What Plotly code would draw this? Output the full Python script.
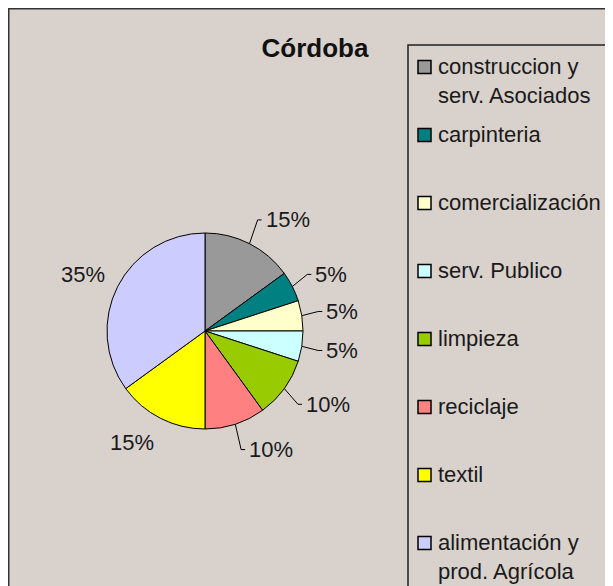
import math
import plotly.graph_objects as go

# ---- data ----
categories = ["construccion y<br>serv. Asociados", "carpinteria", "comercialización",
              "serv. Publico", "limpieza", "reciclaje", "textil",
              "alimentación y<br>prod. Agrícola"]
values = [15, 5, 5, 5, 10, 10, 15, 35]
colors = ["#999999", "#008080", "#FFFFCC", "#CCFFFF", "#99CC00", "#FF8080", "#FFFF00", "#CCCCFF"]
title_text = "Córdoba"

# ---- layout geometry (window pixels; page body adds an 8px margin) ----
W, H = 613, 586
OFF = 8
CX, CY, R = 205, 331, 98
BG = "#d9d1cc"
FONT = "Liberation Sans, Arial, sans-serif"


def px(x):
    return (x - OFF) / W


def py(y):
    return 1 - (y - OFF) / H


fig = go.Figure()
fig.add_trace(go.Pie(
    labels=[c.replace("<br>", " ") for c in categories],
    values=values,
    marker=dict(colors=colors, line=dict(color="black", width=1)),
    sort=False,
    direction="clockwise",
    rotation=0,
    textinfo="none",
    hoverinfo="label+percent",
    showlegend=False,
    domain=dict(x=[px(CX - R), px(CX + R)], y=[py(CY + R), py(CY - R)]),
))

shapes = []
annotations = []

# outer chart border
shapes.append(dict(type="rect", xref="paper", yref="paper",
                   x0=px(8.75), x1=px(W + 40), y0=py(H + 40), y1=py(8.75),
                   fillcolor=BG, line=dict(color="#333333", width=1.5), layer="below"))
# legend box
shapes.append(dict(type="rect", xref="paper", yref="paper",
                   x0=px(408), x1=px(W + 40), y0=py(H + 40), y1=py(45),
                   fillcolor=BG, line=dict(color="#222222", width=1.5), layer="below"))

# percentage labels
total = sum(values)
cum = 0
for v in values:
    mid = (cum + v / 2) / total * 2 * math.pi
    cum += v
    s, c = math.sin(mid), math.cos(mid)
    rl = 1.16 * R
    lx = CX + rl * s
    ly = CY - rl * c - c * 11
    pct = f"{round(v / total * 100)}%"
    if s > 0:
        lx += 7
        ex, ey = CX + R * s, CY - R * c
        path = f"M {px(ex)},{py(ey)} L {px(lx - 6)},{py(ly)} L {px(lx - 2)},{py(ly)}"
        shapes.append(dict(type="path", xref="paper", yref="paper", path=path,
                           line=dict(color="black", width=1)))
        anchor = "left"
    else:
        lx += 3
        anchor = "right"
    annotations.append(dict(x=px(lx), y=py(ly), xref="paper", yref="paper",
                            text=pct, showarrow=False, xanchor=anchor, yanchor="middle",
                            font=dict(family=FONT, size=22, color="#1a1a1a")))

# legend entries
for i, (name, col) in enumerate(zip(categories, colors)):
    yc = 67 + 68 * i
    shapes.append(dict(type="rect", xref="paper", yref="paper",
                       x0=px(418), x1=px(431), y0=py(yc + 6.5), y1=py(yc - 6.5),
                       fillcolor=col, line=dict(color="black", width=1.5)))
    annotations.append(dict(x=px(436), y=py(yc - 15), xref="paper", yref="paper",
                            text=name, showarrow=False, xanchor="left", yanchor="top",
                            align="left",
                            font=dict(family=FONT, size=22, color="#1a1a1a")))

fig.update_layout(
    width=W, height=H, autosize=False,
    margin=dict(l=0, r=0, t=0, b=0),
    paper_bgcolor="white", plot_bgcolor="white",
    title=dict(text=f"<b>{title_text}</b>", x=px(315), y=py(48), xanchor="center",
               yanchor="middle", xref="paper", yref="paper",
               font=dict(family=FONT, size=26, color="#111111")),
    shapes=shapes, annotations=annotations,
)

fig.write_html("out.html")
